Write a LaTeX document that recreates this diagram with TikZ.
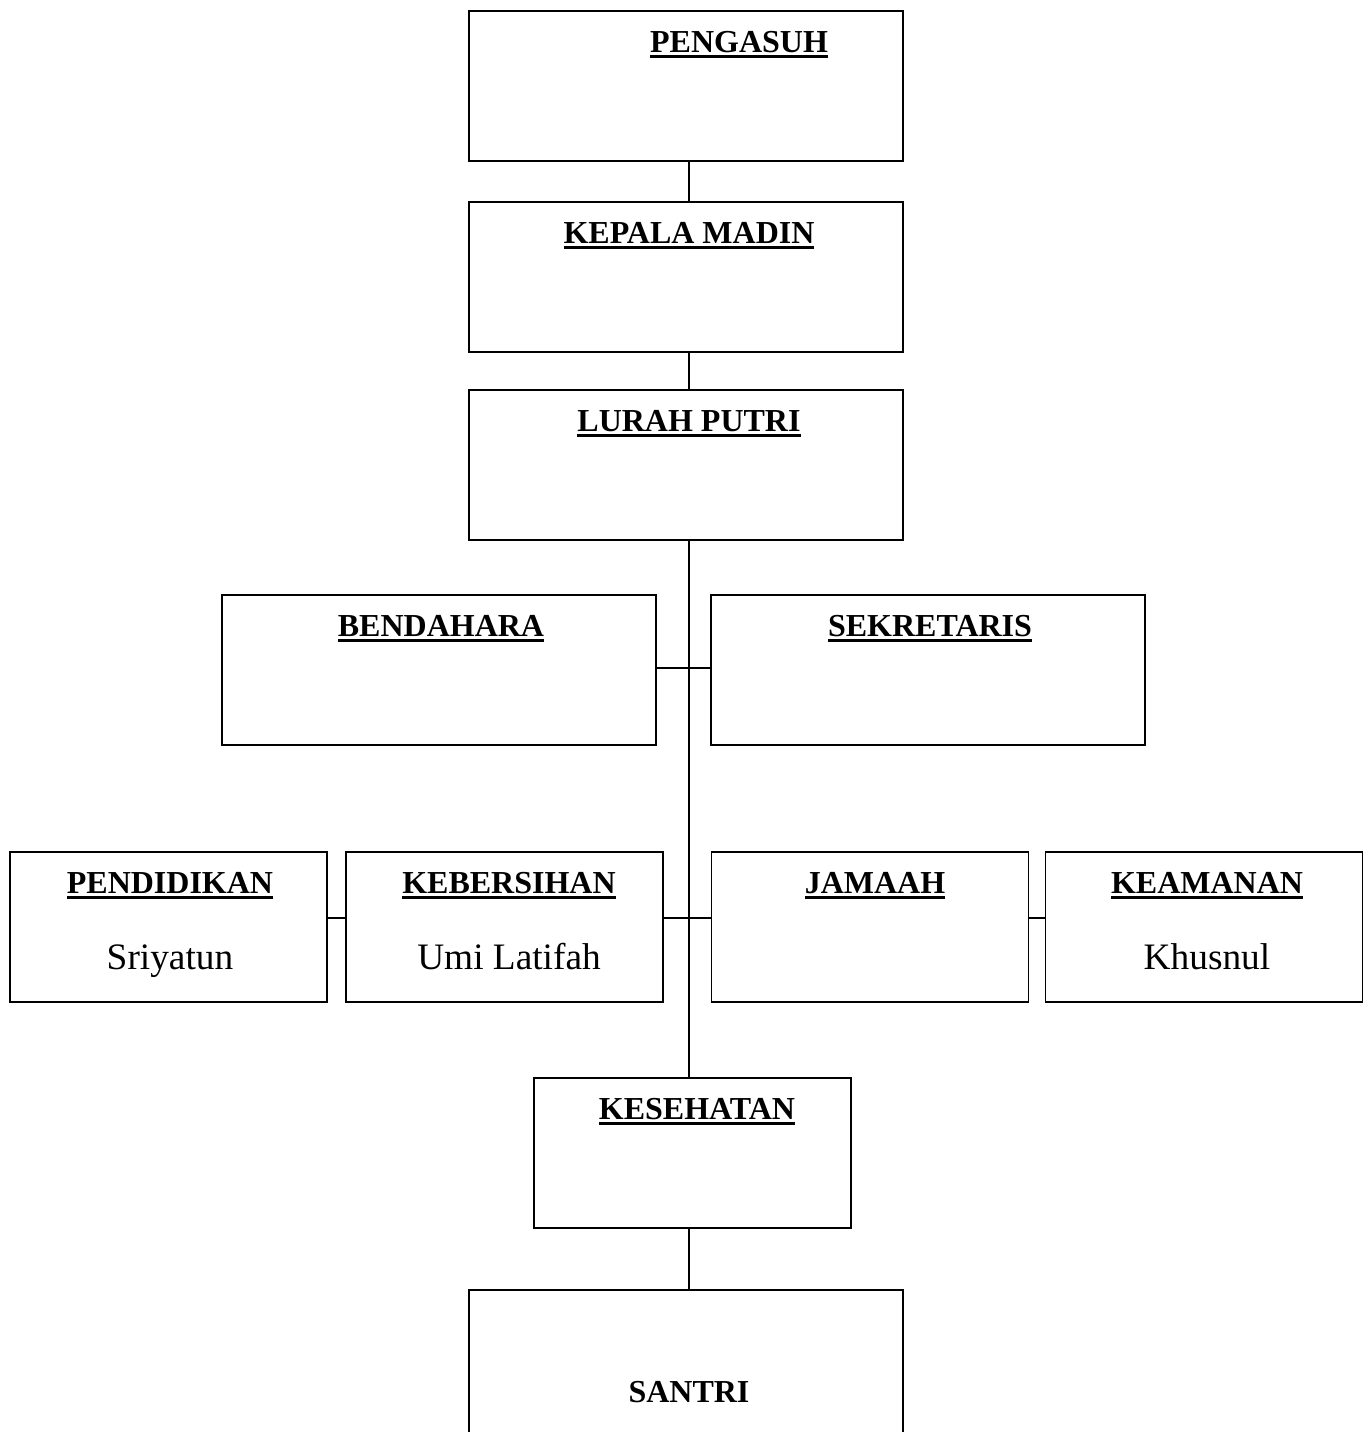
\documentclass[tikz,border=0pt]{standalone}
\usepackage{fontspec}
\setmainfont{Liberation Serif}
\newcommand\ulbf[1]{\setbox0=\hbox{\bfseries #1}\leavevmode\rlap{\rule[-4.4pt]{\wd0}{2.2pt}}\box0}
\begin{document}
\begin{tikzpicture}[x=0.75pt,y=-0.75pt,
  box/.style={draw, line width=1.2pt, minimum height=112.5pt, inner sep=0pt, outer sep=0pt},
  wide/.style={box, minimum width=325.5pt},
  narrow/.style={box, minimum width=237.75pt},
  lbl/.style={anchor=base, inner sep=0pt, font=\fontsize{24}{28}\selectfont},
  persontext/.style={anchor=base, inner sep=0pt, font=\fontsize{28}{32}\selectfont},
  conn/.style={line width=1.2pt}]
\useasboundingbox (0,0) rectangle (1371,1432);
\coordinate (t) at (689,0);
\coordinate (r1) at (0,668);
\coordinate (r2) at (0,918);
% boxes
\node[wide] (peng) at (686,86) {};
\node[wide] (kep) at (686,277) {};
\node[wide] (lurah) at (686,465) {};
\node[wide] (bend) at (439,670) {};
\node[wide] (sek) at (928,670) {};
\node[narrow] (pend) at (168.5,927) {};
\node[narrow] (keb) at (504.5,927) {};
\node[narrow] (jam) at (870,927) {};
\node[narrow] (kea) at (1204,927) {};
\node[narrow] (kes) at (692.5,1153) {};
\node[wide] (santri) at (686,1365) {};
% texts
\node[lbl] (tpeng) at (739,52) {\ulbf{PENGASUH}};
\node[lbl] (tkep) at (689,243) {\ulbf{KEPALA MADIN}};
\node[lbl] (tlurah) at (689,431) {\ulbf{LURAH PUTRI}};
\node[lbl] (tbend) at (441,636) {\ulbf{BENDAHARA}};
\node[lbl] (tsek) at (930,636) {\ulbf{SEKRETARIS}};
\node[lbl] (tpend) at (170,893) {\ulbf{PENDIDIKAN}};
\node[lbl] (tkeb) at (509,893) {\ulbf{KEBERSIHAN}};
\node[lbl] (tjam) at (875,893) {\ulbf{JAMAAH}};
\node[lbl] (tkea) at (1207,893) {\ulbf{KEAMANAN}};
\node[lbl] (tkes) at (697,1119) {\ulbf{KESEHATAN}};
\node[lbl] (tsantri) at (689,1402) {\bfseries SANTRI};
\node[persontext] (npend) at (170,969) {Sriyatun};
\node[persontext] (nkeb) at (509,969) {Umi Latifah};
\node[persontext] (nkea) at (1207,969) {Khusnul};
% connectors
\draw[conn] (peng.south -| t) -- (kep.north -| t);
\draw[conn] (kep.south -| t) -- (lurah.north -| t);
\draw[conn] (lurah.south -| t) -- (kes.north -| t);
\draw[conn] (bend.east |- r1) -- (sek.west |- r1);
\draw[conn] (keb.east |- r2) -- (jam.west |- r2);
\draw[conn] (pend.east |- r2) -- (keb.west |- r2);
\draw[conn] (jam.east |- r2) -- (kea.west |- r2);
\draw[conn] (kes.south -| t) -- (santri.north -| t);
\end{tikzpicture}
\end{document}
